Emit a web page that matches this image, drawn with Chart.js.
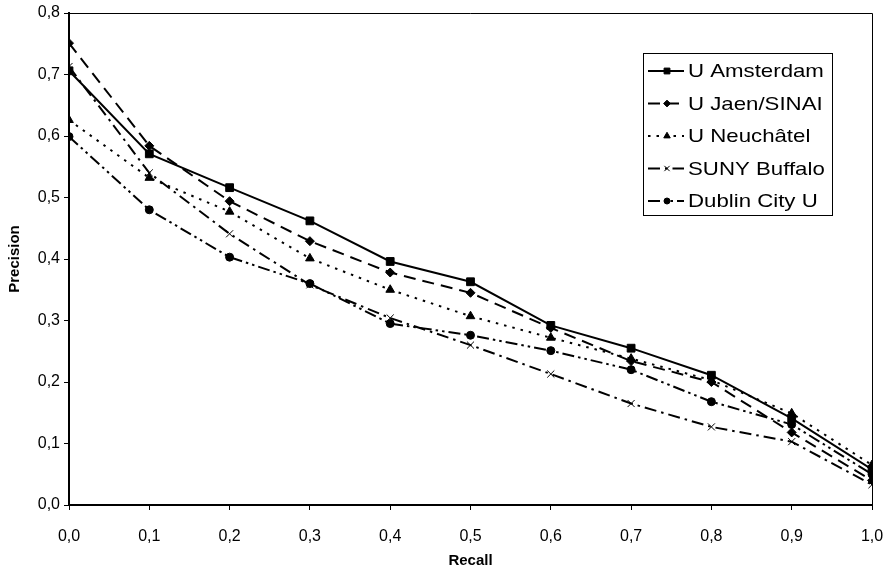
<!DOCTYPE html>
<html>
<head>
<meta charset="utf-8">
<script src="https://cdn.jsdelivr.net/npm/chart.js@4"></script>
<style>
  body { margin: 0; background: #fff; }
  #wrap { width: 893px; height: 574px; }
</style>
</head>
<body>
<div id="wrap"><canvas id="myChart"></canvas></div>
<script>
var recall = [0, 0.1, 0.2, 0.3, 0.4, 0.5, 0.6, 0.7, 0.8, 0.9, 1.0];
var names = ["U Amsterdam", "U Jaen/SINAI", "U Neuchâtel", "SUNY Buffalo", "Dublin City U"];
var amsterdam = [0.706, 0.571, 0.516, 0.462, 0.396, 0.363, 0.292, 0.255, 0.211, 0.141, 0.058];
var jaen      = [0.751, 0.584, 0.494, 0.429, 0.378, 0.345, 0.288, 0.234, 0.200, 0.118, 0.040];
var neuchatel = [0.626, 0.532, 0.477, 0.401, 0.350, 0.307, 0.272, 0.238, 0.203, 0.149, 0.065];
var buffalo   = [0.713, 0.540, 0.441, 0.358, 0.304, 0.260, 0.213, 0.165, 0.127, 0.103, 0.033];
var dublin    = [0.599, 0.480, 0.403, 0.360, 0.295, 0.276, 0.251, 0.220, 0.168, 0.131, 0.050];
var yTicks = [0, 0.1, 0.2, 0.3, 0.4, 0.5, 0.6, 0.7, 0.8];

function pts(vals) {
  return vals.map(function (v, i) { return { x: recall[i], y: v }; });
}
function comma(v) { return v.toFixed(1).replace('.', ','); }

var FONT = "'Liberation Sans', Arial, sans-serif";

var series = [
  { data: amsterdam, dash: [],               point: 'rect',     r: 5.5, pw: 1 },
  { data: jaen,      dash: [12, 7],          point: 'rectRot',  r: 4.5, pw: 1 },
  { data: neuchatel, dash: [2.5, 6],         point: 'triangle', r: 5,   pw: 1 },
  { data: buffalo,   dash: [12, 5, 2.5, 5],  point: 'crossRot', r: 5,   pw: 1 },
  { data: dublin,    dash: [12, 4, 2.5, 4, 2.5, 4], point: 'circle', r: 4, pw: 1 }
];

// legend box drawn inside the plot, like the original
var boxLegend = {
  id: 'boxLegend',
  afterDraw: function (chart) {
    var ctx = chart.ctx;
    var bx = 643, by = 53, bw = 189, bh = 162;
    ctx.save();
    ctx.fillStyle = '#fff';
    ctx.fillRect(bx, by, bw, bh);
    ctx.strokeStyle = '#000';
    ctx.lineWidth = 1;
    ctx.strokeRect(bx + 0.5, by + 0.5, bw, bh);
    chart.data.datasets.forEach(function (ds, i) {
      var y = 71 + i * 32.5;
      ctx.strokeStyle = '#000';
      ctx.fillStyle = '#000';
      ctx.lineWidth = 2;
      ctx.setLineDash(ds.borderDash || []);
      ctx.beginPath();
      ctx.moveTo(648, y);
      ctx.lineTo(684, y);
      ctx.stroke();
      ctx.setLineDash([]);
      ctx.lineWidth = ds.pointBorderWidth;
      Chart.helpers.drawPoint(ctx, {
        pointStyle: ds.pointStyle, radius: ds.pointRadius * 0.75, borderWidth: ds.pointBorderWidth
      }, 667, y);
      ctx.font = '19px ' + FONT;
      ctx.textBaseline = 'middle';
      ctx.save();
      ctx.translate(688, y + 1);
      ctx.scale(1.17, 1);
      ctx.fillText(ds.label, 0, 0);
      ctx.restore();
    });
    ctx.restore();
  }
};

// thin frame on top and right of the plot area
var frame = {
  id: 'frame',
  beforeDatasetsDraw: function (chart) {
    var a = chart.chartArea, ctx = chart.ctx;
    ctx.save();
    ctx.strokeStyle = '#000';
    ctx.lineWidth = 1;
    ctx.beginPath();
    ctx.moveTo(a.left, a.top + 0.5);
    ctx.lineTo(a.right + 0.5, a.top + 0.5);
    ctx.lineTo(a.right + 0.5, a.bottom);
    ctx.stroke();
    ctx.restore();
  }
};

new Chart("myChart", {
  type: "line",
  data: {
    datasets: series.map(function (s, i) {
      return {
        label: names[i],
        data: pts(s.data),
        borderColor: '#000',
        backgroundColor: '#000',
        borderWidth: 2,
        borderDash: s.dash,
        pointStyle: s.point,
        pointRadius: s.r,
        pointBorderWidth: s.pw,
        pointBackgroundColor: '#000',
        pointBorderColor: '#000',
        tension: 0,
        fill: false
      };
    })
  },
  options: {
    responsive: true,
    maintainAspectRatio: false,
    animation: false,
    layout: { padding: { top: 13, right: 21, left: 0, bottom: 0 } },
    plugins: { legend: { display: false }, tooltip: { enabled: false } },
    scales: {
      x: {
        type: 'linear', min: 0, max: 1,
        afterBuildTicks: function (sc) { sc.ticks = recall.map(function (v) { return { value: v }; }); },
        afterFit: function (sc) { sc.height = 69; sc.paddingLeft = 0; sc.paddingRight = 0; },
        grid: { drawOnChartArea: false, color: '#000', tickLength: 5 },
        border: { color: '#000', width: 2 },
        ticks: { color: '#000', font: { family: FONT, size: 16 }, padding: 17, maxRotation: 0, autoSkip: false,
                 callback: function (v) { return comma(v); } },
        title: { display: true, text: 'Recall', color: '#000', padding: { top: 2 },
                 font: { family: FONT, size: 15, weight: 'bold' } }
      },
      y: {
        min: 0, max: 0.8,
        afterBuildTicks: function (sc) { sc.ticks = yTicks.map(function (v) { return { value: v }; }); },
        afterFit: function (sc) { sc.width = 69; sc.paddingTop = 0; sc.paddingBottom = 0; },
        grid: { drawOnChartArea: false, color: '#000', tickLength: 5 },
        border: { color: '#000', width: 2 },
        ticks: { color: '#000', font: { family: FONT, size: 16 }, padding: 4,
                 callback: function (v) { return comma(v); } },
        title: { display: true, text: 'Precision', color: '#000', padding: { bottom: 0, top: 6 },
                 font: { family: FONT, size: 15, weight: 'bold' } }
      }
    }
  },
  plugins: [frame, boxLegend]
});
</script>
</body>
</html>
